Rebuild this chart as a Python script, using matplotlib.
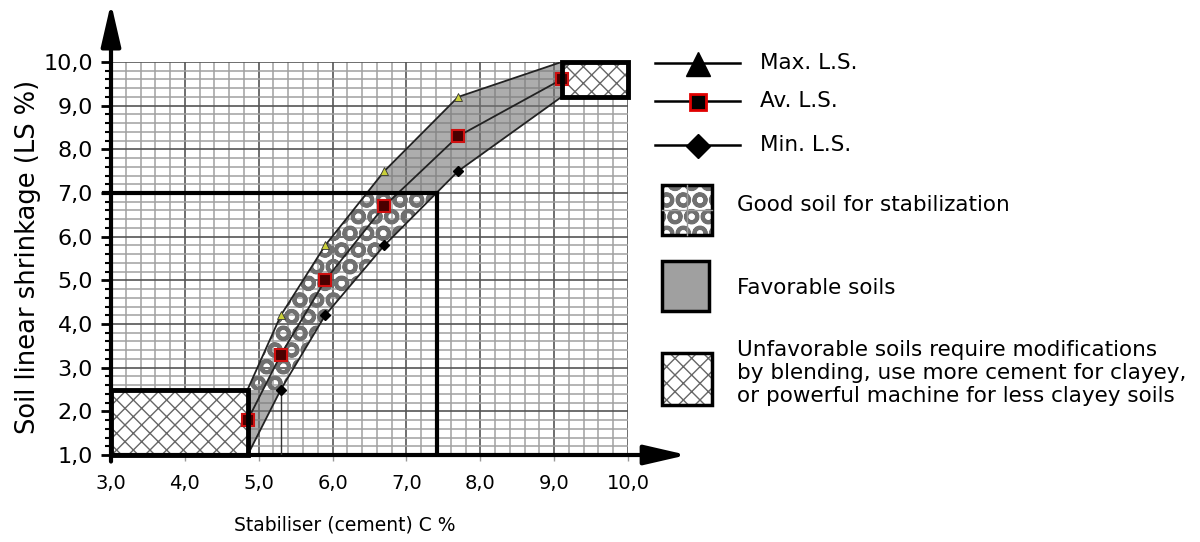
"""
Soil linear shrinkage vs cement stabiliser chart
"""
import matplotlib
matplotlib.use('Agg')
import matplotlib.pyplot as plt
from matplotlib.patches import Polygon, Rectangle
from matplotlib.lines import Line2D
import numpy as np

# data
x_cement = [4.85, 5.3, 5.9, 6.7, 7.7, 9.1]
max_ls = [2.5, 4.2, 5.8, 7.5, 9.2, 10.0]
av_ls = [1.8, 3.3, 5.0, 6.7, 8.3, 9.6]
min_ls = [1.0, 2.5, 4.2, 5.8, 7.5, 9.2]

x_ticks = [3, 4, 5, 6, 7, 8, 9, 10]
x_tick_labels = ['3,0', '4,0', '5,0', '6,0', '7,0', '8,0', '9,0', '10,0']
y_ticks = [1, 2, 3, 4, 5, 6, 7, 8, 9, 10]
y_tick_labels = ['1,0', '2,0', '3,0', '4,0', '5,0', '6,0', '7,0', '8,0', '9,0', '10,0']

# zone limits
good_x_max = 7.42
good_y_max = 7.0
unfav_low = (3.0, 1.0, 4.85, 2.5)     # x0, y0, x1, y1
unfav_high = (9.1, 9.2, 10.0, 10.0)

legend_lines = ['Max. L.S.', 'Av. L.S.', 'Min. L.S.']
legend_zones = ['Good soil for stabilization', 'Favorable soils',
                'Unfavorable soils require modifications\n'
                'by blending, use more cement for clayey,\n'
                'or powerful machine for less clayey soils']

plt.rcParams['font.family'] = ['DejaVu Sans']
plt.rcParams['hatch.linewidth'] = 1.0

W, H = 1200, 542
fig = plt.figure(figsize=(W/100, H/100), dpi=100)
ax = fig.add_axes([111/W, 1-455/H, 517/W, 393/H])
ax.set_xlim(3, 10)
ax.set_ylim(1, 10)

ax.set_xticks(x_ticks)
ax.set_xticklabels(x_tick_labels, fontsize=14)
ax.set_xticks(np.arange(3, 10.01, 0.2), minor=True)
ax.set_yticks(y_ticks)
ax.set_yticklabels(y_tick_labels, fontsize=16)
ax.set_yticks(np.arange(1, 10.01, 0.2), minor=True)
ax.grid(which='major', color='#555555', lw=1.2)
ax.grid(which='minor', color='#a0a0a0', lw=1.1)
ax.set_axisbelow(True)
for s in ax.spines.values():
    s.set_visible(False)
ax.tick_params(axis='y', which='major', direction='out', length=7, width=2, pad=6)
ax.tick_params(axis='y', which='minor', direction='out', length=4, width=1.5)
ax.tick_params(axis='x', which='major', direction='out', length=4, width=1,
               color='#999999', pad=10)
ax.tick_params(axis='x', which='minor', length=0)

def set_hlw(p, w):
    if hasattr(p, 'set_hatch_linewidth'):
        p.set_hatch_linewidth(w)

# band between max and min: gray outside the good zone, blobs inside
band = list(zip(x_cement, max_ls)) + list(zip(x_cement[::-1], min_ls[::-1]))
for y0, y1 in [(1, unfav_low[3]), (good_y_max, 10)]:
    g = Polygon(band, closed=True, facecolor='#777777', alpha=0.6,
                edgecolor='none', zorder=2)
    ax.add_patch(g)
    g.set_clip_path(Rectangle((3, y0), 7, y1 - y0, transform=ax.transData))
good = Polygon(band, closed=True, facecolor='none', edgecolor='#707070',
               hatch='O', lw=0, zorder=3)
set_hlw(good, 2.8)
ax.add_patch(good)
good.set_clip_path(Rectangle((3, unfav_low[3]), good_x_max-3, good_y_max-unfav_low[3],
                             transform=ax.transData))

# unfavorable boxes
for b in [unfav_low, unfav_high]:
    r = Rectangle((b[0], b[1]), b[2]-b[0], b[3]-b[1], facecolor='white',
                  edgecolor='#666666', hatch='xx', lw=0, zorder=3)
    set_hlw(r, 1.0)
    ax.add_patch(r)
    ax.add_patch(Rectangle((b[0], b[1]), b[2]-b[0], b[3]-b[1], fill=False,
                           edgecolor='black', lw=3.5, zorder=6, clip_on=False))

# good soil limit lines
ax.plot([2.9, good_x_max], [good_y_max, good_y_max], color='black', lw=3, zorder=6,
        clip_on=False)
ax.plot([good_x_max, good_x_max], [1, good_y_max], color='black', lw=3, zorder=6)
ax.plot([x_cement[1], x_cement[1]], [1, min_ls[1]], color='#333333', lw=1, zorder=4)

# curves
ax.plot(x_cement, max_ls, color='#222222', lw=1.3, marker='^', ms=6,
        mfc='#c9cf3a', mec='#333333', mew=0.6, markevery=[1, 2, 3, 4], zorder=5)
ax.plot(x_cement, av_ls, color='#222222', lw=1.3, marker='s', ms=8,
        mfc='#4a0000', mec='#d01010', mew=1.5, zorder=5)
ax.plot(x_cement, min_ls, color='#222222', lw=1.3, marker='D', ms=5,
        mfc='black', mec='black', markevery=[1, 2, 3, 4], zorder=5)

# axis arrows
ap = dict(arrowstyle='-|>,head_length=1.3,head_width=0.3', lw=3, color='black',
          mutation_scale=20, shrinkA=0, shrinkB=0)
ax.annotate('', xy=(3, 11.35), xytext=(3, 0.85), arrowprops=ap, annotation_clip=False)
ax.annotate('', xy=(10.8, 1), xytext=(3, 1), arrowprops=ap, annotation_clip=False)

fig.text(28/W, 1-257/H, 'Soil linear shrinkage (LS %)', rotation=90, fontsize=18.5,
         ha='center', va='center')
fig.text(345/W, 1-525/H, 'Stabiliser (cement) C %', fontsize=13.5,
         ha='center', va='center')

# legend drawn in pixel coordinates
lg = fig.add_axes([0, 0, 1, 1])
lg.set_xlim(0, W)
lg.set_ylim(H, 0)
lg.axis('off')
lg.patch.set_alpha(0)

line_y = [63, 101, 145]
markers = [dict(marker='^', ms=17, mfc='black', mec='black'),
           dict(marker='s', ms=11, mfc='black', mec='#e00000', mew=2),
           dict(marker='D', ms=12, mfc='black', mec='black')]
for lab, yy, mk in zip(legend_lines, line_y, markers):
    lg.add_line(Line2D([655, 740], [yy, yy], color='black', lw=1.8))
    lg.add_line(Line2D([698], [yy + 1], **mk))
    lg.text(760, yy, lab, fontsize=15.5, va='center', ha='left')

boxes = [(662, 185, 50, 50), (662, 261, 47, 50), (662, 353, 50, 52)]
text_y = [205, 288, 373]
for i, (bx, ty, lab) in enumerate(zip(boxes, text_y, legend_zones)):
    if i == 0:
        p = Rectangle(bx[:2], bx[2], bx[3], facecolor='white', edgecolor='#707070',
                      hatch='O', lw=0)
        set_hlw(p, 2.8)
        lg.add_line(Line2D([bx[0], bx[0] + bx[2]], [bx[1] + bx[3]/2]*2,
                           color='#999999', lw=1))
        lg.add_line(Line2D([bx[0] + bx[2]/2]*2, [bx[1], bx[1] + bx[3]],
                           color='#999999', lw=1))
    elif i == 1:
        p = Rectangle(bx[:2], bx[2], bx[3], facecolor='#a0a0a0', lw=0)
    else:
        p = Rectangle(bx[:2], bx[2], bx[3], facecolor='white', edgecolor='#666666',
                      hatch='xx', lw=0)
        set_hlw(p, 1.0)
    p.set_zorder(0)
    lg.add_patch(p)
    lg.add_patch(Rectangle(bx[:2], bx[2], bx[3], fill=False, edgecolor='black', lw=2.5))
    lg.text(737, ty, lab, fontsize=15.5, va='center', ha='left', linespacing=1.2)

fig.savefig('out.png', dpi=100)
